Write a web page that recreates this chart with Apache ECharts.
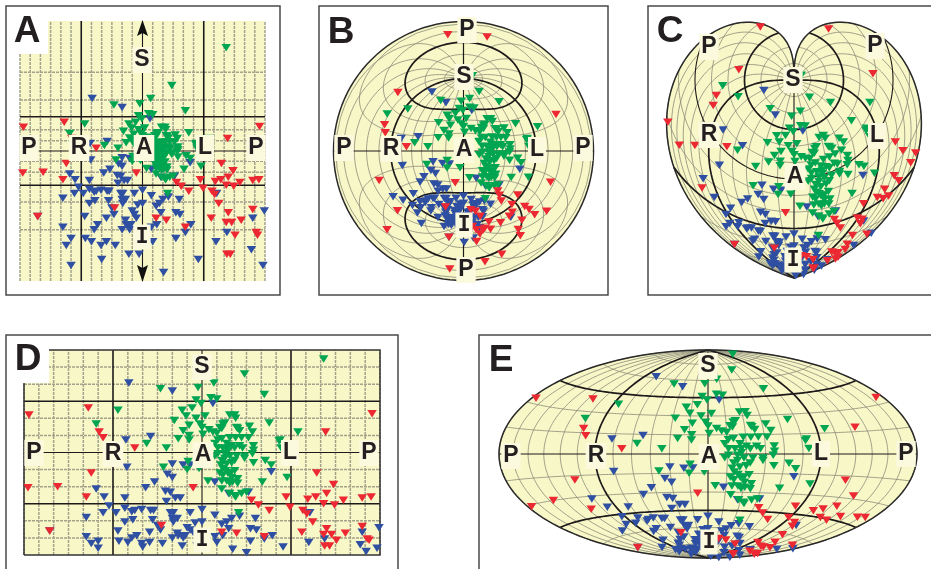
<!DOCTYPE html>
<html><head><meta charset="utf-8">
<style>html,body{margin:0;padding:0;background:#fff}#c{width:931px;height:569px}</style>
<script src="https://cdn.jsdelivr.net/npm/echarts@6/dist/echarts.min.js"></script>
</head><body><div id="c"></div>
<script>
// [longitude, latitude] of each mark
const bluePoints=[[-74,61],[-30,54],[-52,14],[-77,11],[-76,-13],[-107,-32],[-99,-39],[-94,-47],[-117,-57],[-100,-53],[-117,-74],[-112,-80],[-105,-78],[-105,-84],[-154,-69],[-57,-31],[-48,-26],[-30,-10],[-35,-19],[-30,-22],[-78,-40],[-37,-34],[-32,-35],[-36,-43],[-27,-40],[-22,-40],[-19,-11],[-12,-11],[-87,-53],[-78,-49],[-71,-52],[-68,-51],[-61,-50],[-52,-51],[-49,-51],[-32,-53],[-29,-53],[-12,-53],[-78,-61],[-70,-59],[-50,-59],[-45,-64],[-30,-58],[-25,-58],[-29,-61],[-7,-62],[-85,-69],[-66,-73],[-71,-75],[-53,-70],[-42,-68],[-84,-78],[-75,-79],[-61,-80],[-53,-79],[-40,-80],[-60,-83],[-30,-75],[-25,-71],[-20,-73],[-17,-73],[-12,-68],[-9,-70],[-5,-82],[-20,-82],[0,-50],[0,-61],[-15,-66],[-24,-73],[-19,-75],[13,-55],[38,-56],[54,-58],[30,-58],[25,-61],[20,-63],[27,-67],[49,-67],[55,-68],[13,-74],[21,-73],[15,-79],[49,-78],[31,-85],[45,-88],[71,-73],[63,-76],[70,-17],[27,-36],[13,-26],[47,-35],[11,43],[82,-83],[109,-53],[108,-79],[124,-76],[160,-81],[162,-70],[166,-87],[177,-84],[179,-66]];
const greenPoints=[[123,82],[43,69],[12,61],[-4,57],[-42,56],[63,51],[-6,46],[9,48],[15,47],[-1,43],[-20,37],[-10,39],[-16,32],[-6,30],[3,32],[-28,28],[-2,25],[0,22],[-13,24],[-19,19],[-13,15],[-13,11],[-24,12],[1,16],[-36,4],[-56,8],[68,26],[-85,37],[-107,25],[7,20],[11,18],[28,33],[33,33],[34,30],[21,25],[18,22],[23,26],[20,21],[35,22],[38,19],[48,23],[51,18],[47,13],[15,17],[28,13],[34,13],[40,13],[13,8],[25,8],[30,6],[41,4],[52,6],[52,2],[21,4],[26,1],[79,11],[97,18],[78,10],[80,4],[36,21],[43,-3],[52,-9],[64,-7],[70,-11],[61,-26],[86,-22],[6,-25],[20,-32],[33,-38],[40,-36],[45,-35],[37,-53],[13,-3],[16,-1],[23,-1],[28,-3],[35,-3],[43,-5],[51,-1],[20,-7],[25,-10],[21,-14],[18,-18],[26,-18],[33,-16],[21,-20],[30,-22],[36,-23],[31,-26],[36,-27],[28,-27],[25,-25],[20,-25],[34,-39],[28,-36],[-39,-13],[-14,-8],[-15,-15],[-3,-14],[16,11],[20,12],[33,4],[38,6],[23,-5],[30,-9],[26,4],[33,-7],[24,-16],[29,-18],[19,-11],[16,4]];
const redPoints=[[-175,33],[-115,39],[-104,18],[-100,13],[-68,4],[-112,-18],[-176,-31],[-146,-30],[-117,-39],[-154,-69],[-9,-31],[-41,-64],[172,34],[125,18],[116,-18],[133,-28],[85,-39],[107,-41],[115,-39],[126,-36],[123,-45],[134,-46],[143,-42],[162,-40],[171,-39],[50,-42],[57,-46],[68,-51],[89,-48],[102,-51],[106,-54],[112,-61],[20,-70],[35,-71],[63,-74],[101,-70],[123,-72],[126,-67],[131,-72],[145,-71],[136,-77],[124,-82],[129,-82],[162,-65],[167,-76],[169,-77]];

const BG='#f8f7c8', BLUE='#2f4fa2', GREEN='#00a551', RED='#ec2833', INK='#231f20';
const rad=Math.PI/180;
const clamp=(v,a)=>Math.max(-a,Math.min(a,v));
const merc=(lo,la)=>[lo,clamp(Math.log(Math.tan(Math.PI/4+la*rad/2)),3.35)];
const knots=[0,.25,.5,.75,1], vals=[0,.323,.56,.84,1];
function radial(t){let s=0;for(let i=0;i<5;i++){let p=vals[i];for(let j=0;j<5;j++)if(j!==i)p*=(t-knots[j])/(knots[i]-knots[j]);s+=p;}return s;}
function azim(lo,la){
  const c=Math.acos(clamp(Math.cos(la*rad)*Math.cos(lo*rad),1));
  const az=Math.atan2(Math.sin(la*rad),Math.cos(la*rad)*Math.sin(lo*rad));
  const r=radial(c/Math.PI);return [r*Math.cos(az),r*Math.sin(az)];
}
function werner(lo,la){
  const p=(90-la)*rad; const th=p<1e-6?lo*rad:lo*rad*Math.sin(p)/p;
  const r=p/(Math.PI/2);return [r*Math.sin(th),-r*Math.cos(th)];
}
function hammer(lo,la){
  const l=lo*rad/2,f=la*rad,d=Math.sqrt(1+Math.cos(f)*Math.cos(l));
  return [Math.cos(f)*Math.sin(l)/d, Math.sin(f)/d];
}
const range=(a,b,s)=>{const o=[];for(let v=a;v<=b+1e-9;v+=s)o.push(v);return o;};
const circle=range(0,360,3).map(a=>[Math.cos(a*rad),Math.sin(a*rad)]);

const panels=[
 {proj:merc,box:[20,21,245,260],xr:[-180,180],yr:[-3.35,3.35],dash:[3,1],minorW:1.5,minorC:'#a3a38c',majorW:1.6,
  outline:[[-180,-3.35],[180,-3.35],[180,3.35],[-180,3.35]],stroke:null},
 {proj:azim,box:[333.5,21.5,260,259],xr:[-1,1],yr:[-1,1],minorW:.8,minorC:'#8b8b78',majorW:1.7,outline:circle,stroke:'#2a2a2a',split:true},
 {proj:werner,box:[648,6,283,289],xr:[-146/99,137/99],yr:[-215/99,74/99],minorW:.8,minorC:'#8b8b78',majorW:1.7,outlineFrom:true,stroke:'#2a2a2a'},
 {proj:(lo,la)=>[lo,la],box:[24,350,356,205],xr:[-180,180],yr:[-90,90],dash:[3,1],minorW:1.5,minorC:'#a3a38c',majorW:1.6,
  outline:[[-180,-90],[180,-90],[180,90],[-180,90],[-180,-90]],stroke:'#333'},
 {proj:hammer,box:[499,350,418,208],xr:[-1,1],yr:[-1,1],minorW:.8,minorC:'#8b8b78',majorW:1.7,outlineFrom:true,stroke:'#2a2a2a'}
];

function graticule(p){
  const style=(isMajor,isAxis)=>isMajor?{stroke:'#1c1a1a',lineWidth:p.majorW}:isAxis?{stroke:'#1c1a1a',lineWidth:1.1}:{stroke:p.minorC,lineWidth:p.minorW,lineDash:p.dash||null};
  const minors=[],majors=[];
  range(-180,180,15).forEach(lo=>{
    const major=Math.abs(lo)===90, ax=lo===0||(p.split&&Math.abs(lo)===180);
    const list=major||ax?majors:minors;
    if(Math.abs(lo)===180&&p.split){
      list.push({pts:range(-90,-2,2).concat([-.01]).map(la=>p.proj(lo,la)),s:style(false,true)});
      list.push({pts:[.01].concat(range(2,90,2)).map(la=>p.proj(lo,la)),s:style(false,true)});
    }else{
      list.push({pts:range(-90,90,2).map(la=>p.proj(lo,la)),s:style(major,ax)});
    }
  });
  range(-75,75,15).forEach(la=>{
    const major=Math.abs(la)===45, ax=la===0;
    (major||ax?majors:minors).push({pts:range(-180,180,3).map(lo=>p.proj(lo,la)),s:style(major,ax)});
  });
  return minors.concat(majors);
}

const tri='path://M0 0L10 0L5 8Z';
const grids=[],xAxes=[],yAxes=[],series=[];
panels.forEach((p,i)=>{
  grids.push({left:p.box[0],top:p.box[1],width:p.box[2],height:p.box[3],show:false,containLabel:false});
  xAxes.push({type:'value',gridIndex:i,min:p.xr[0],max:p.xr[1],show:false,scale:false});
  yAxes.push({type:'value',gridIndex:i,min:p.yr[0],max:p.yr[1],show:false,scale:false});
  const outline=p.outlineFrom?range(-90,90,2).map(la=>p.proj(-180,la)).concat(range(-90,90,2).reverse().map(la=>p.proj(180,la))):p.outline;
  series.push({type:'custom',xAxisIndex:i,yAxisIndex:i,silent:true,clip:false,z:1,data:[[0,0]],
    renderItem:(o,api)=>({type:'polygon',shape:{points:outline.map(q=>api.coord(q))},style:{fill:BG}})});
  const lines=graticule(p);
  series.push({type:'custom',xAxisIndex:i,yAxisIndex:i,silent:true,clip:false,z:2,data:lines.map((l,k)=>[0,0,k]),
    renderItem:(o,api)=>{const l=lines[o.dataIndex];return {type:'polyline',shape:{points:l.pts.map(q=>api.coord(q))},style:Object.assign({fill:null},l.s)};}});
  if(p.stroke)series.push({type:'custom',xAxisIndex:i,yAxisIndex:i,silent:true,clip:false,z:2,data:[[0,0]],
    renderItem:(o,api)=>({type:'polyline',shape:{points:outline.concat([outline[0]]).map(q=>api.coord(q))},style:{fill:null,stroke:p.stroke,lineWidth:1.5}})});
  [[bluePoints,BLUE,3],[greenPoints,GREEN,4],[redPoints,RED,5]].forEach(([pts,col,z])=>{
    const data=pts.filter(q=>i!==0||Math.abs(Math.log(Math.tan(Math.PI/4+q[1]*rad/2)))<3.34).map(q=>p.proj(q[0],q[1]));
    series.push({type:'scatter',xAxisIndex:i,yAxisIndex:i,silent:true,clip:false,z,symbol:tri,symbolSize:[9.5,7.5],data,itemStyle:{color:col,opacity:1}});
  });
});

const g=[];
const frame=(x,y,w,h)=>g.push({type:'rect',z:0,shape:{x,y,width:w,height:h},style:{fill:null,stroke:'#4a4a4a',lineWidth:1.5}});
frame(6,6,274,289);frame(319,6,289,289);frame(648,6,300,289);frame(6,335,392,250);frame(479,335,470,250);
g.push({type:'rect',z:8,shape:{x:19,y:20,width:29,height:34},style:{fill:'#fff'}});
g.push({type:'rect',z:8,shape:{x:23,y:349,width:26,height:34},style:{fill:'#fff'}});
const lab=(t,x,y)=>g.push({type:'text',z:10,x,y,style:{text:t,fill:INK,align:'center',verticalAlign:'middle',
  font:t==='I'?'bold 22px "DejaVu Sans Mono"':'bold 23px "Liberation Sans"',backgroundColor:'#fbfadf',padding:[2,2,1,2]}});
[['S',142,60],['P',29,148],['R',79,148],['A',144,148],['L',205,148],['P',256,148],['I',142,237],
 ['P',467,30],['S',464,77],['P',344,148],['R',391,149],['A',464,150],['L',537,150],['P',583,148],['I',464,225],['P',466,270],
 ['S',793,80],['P',709,47],['P',875,46],['R',709,135],['L',877,136],['A',795,177],['I',793,260],
 ['S',202,367],['P',34,453],['R',113,454],['A',203,455],['L',290,453],['P',369,453],['I',202,540],
 ['S',708,366],['P',511,456],['R',596,456],['A',709,457],['L',821,454],['P',906,454],['I',709,542]].forEach(a=>lab(a[0],a[1],a[2]));
const big=(t,x,y)=>g.push({type:'text',z:11,x,y,style:{text:t,fill:INK,align:'center',verticalAlign:'middle',font:'bold 37px "Liberation Sans"'}});
big('A',27,32);big('B',341,33);big('C',670,32);big('D',28,360);big('E',501,361);
// S / I arrows of panel A
g.push({type:'polygon',z:9,shape:{points:[[142.5,20],[137,36],[142.5,33],[148,36]]},style:{fill:'#111'}});
g.push({type:'polygon',z:9,shape:{points:[[142.5,282],[137,265],[142.5,268],[148,265]]},style:{fill:'#111'}});

const chart=echarts.init(document.getElementById('c'),null,{renderer:'canvas'});
chart.setOption({animation:false,backgroundColor:'#fff',grid:grids,xAxis:xAxes,yAxis:yAxes,series,graphic:{elements:g}});
</script></body></html>
